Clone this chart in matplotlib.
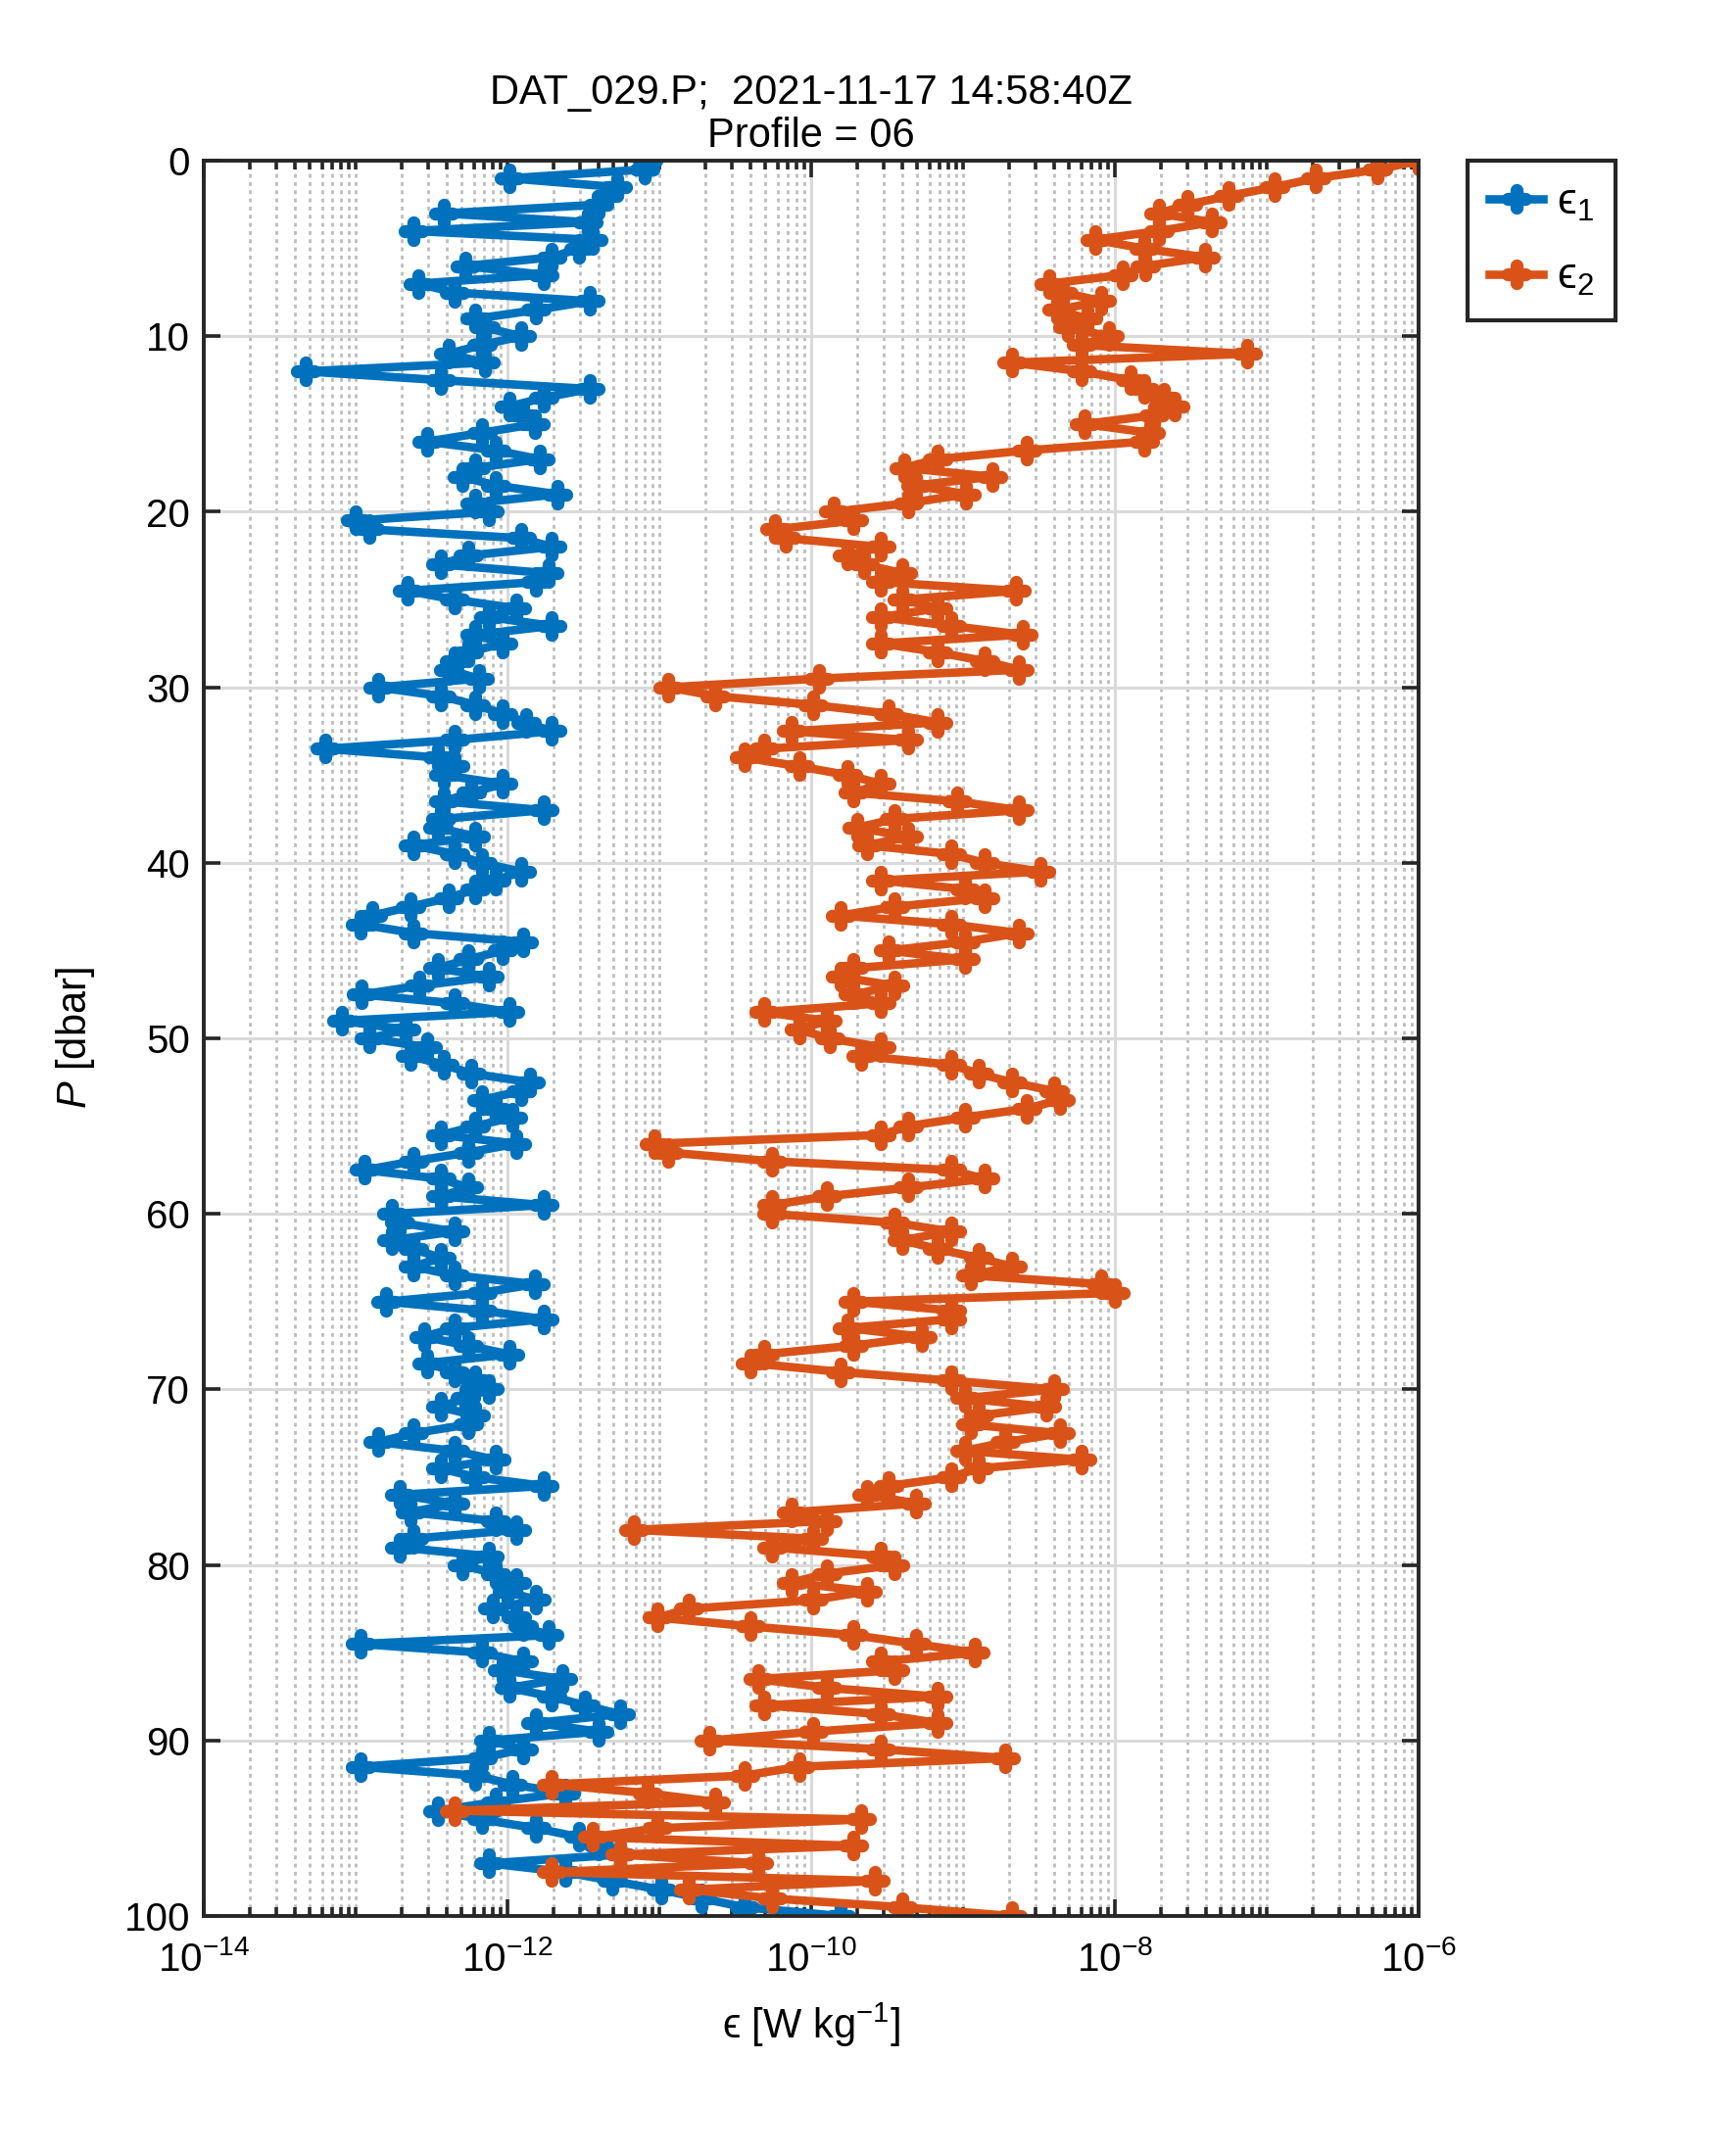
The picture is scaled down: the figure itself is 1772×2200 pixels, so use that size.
import numpy as np
import matplotlib
matplotlib.use("Agg")
import matplotlib.pyplot as plt
from matplotlib.markers import MarkerStyle
from matplotlib.ticker import FixedLocator, LogLocator, NullFormatter

plt.rcParams['font.family'] = ['Liberation Sans', 'DejaVu Sans']
plt.rcParams['mathtext.fontset'] = 'custom'
plt.rcParams['mathtext.rm'] = 'Liberation Sans'
plt.rcParams['mathtext.it'] = 'Liberation Sans:italic'

# pressure levels [dbar]
pressure = np.arange(0, 100.5, 0.5)

# log10 of epsilon, one value per pressure level
log_eps1 = [
    -11.08, -11.10, -11.99, -11.28, -11.35, -11.40, -12.42, -11.47, -12.62, -11.44,
    -11.53, -11.71, -12.28, -11.76, -12.59, -12.35, -11.46, -11.81, -12.21, -12.15,
    -11.91, -12.17, -12.39, -12.15, -13.33, -12.44, -11.46, -11.76, -11.99, -11.90,
    -11.82, -12.17, -12.53, -12.08, -11.79, -12.21, -12.30, -12.08, -11.67, -12.21,
    -12.12, -13.00, -12.91, -11.91, -11.71, -12.26, -12.44, -11.73, -11.81, -12.66,
    -12.35, -11.94, -12.12, -11.71, -12.21, -12.03, -12.26, -12.35, -12.39, -12.19,
    -12.85, -12.44, -12.21, -12.03, -11.88, -11.71, -12.35, -13.20, -12.46, -12.35,
    -12.42, -12.03, -12.24, -12.42, -11.76, -12.44, -12.46, -12.21, -12.62, -12.35,
    -12.17, -11.91, -12.08, -12.21, -12.39, -12.64, -12.89, -12.97, -12.62, -11.90,
    -12.03, -12.26, -12.46, -12.12, -12.58, -12.96, -12.35, -11.99, -13.09, -12.67,
    -12.91, -12.53, -12.64, -12.42, -12.24, -11.85, -11.91, -12.17, -12.08, -11.97,
    -12.21, -12.44, -11.94, -12.26, -12.62, -12.94, -12.44, -12.26, -12.44, -11.76,
    -12.76, -12.71, -12.35, -12.76, -12.62, -12.44, -12.62, -12.35, -11.82, -12.17,
    -12.80, -12.17, -11.76, -12.35, -12.55, -12.26, -11.99, -12.53, -12.35, -12.21,
    -12.12, -12.28, -12.44, -12.21, -12.26, -12.62, -12.85, -12.35, -12.08, -12.44,
    -12.21, -11.76, -12.71, -12.35, -12.64, -12.08, -11.94, -12.62, -12.71, -12.12,
    -12.30, -12.08, -11.94, -12.00, -11.81, -12.10, -11.94, -11.90, -11.73, -12.97,
    -12.17, -11.90, -12.03, -11.64, -11.99, -11.71, -11.49, -11.26, -11.81, -11.40,
    -12.12, -11.90, -12.17, -12.97, -12.21, -11.97, -11.62, -12.08, -12.46, -12.17,
    -11.81, -11.53, -11.40, -11.26, -12.12, -11.62, -11.31, -10.99, -10.72, -10.44,
    -9.81,
]

log_eps2 = [
    -6.00, -6.27, -6.68, -6.95, -7.25, -7.52, -7.71, -7.36, -7.71, -8.13,
    -7.81, -7.41, -7.80, -7.95, -8.43, -8.34, -8.09, -8.38, -8.18, -8.31,
    -8.04, -8.22, -7.13, -8.68, -8.22, -7.90, -7.81, -7.68, -7.61, -7.74,
    -8.20, -7.77, -7.81, -8.58, -9.17, -9.39, -8.81, -9.31, -8.98, -9.36,
    -9.85, -9.72, -10.24, -10.17, -9.54, -9.76, -9.65, -9.40, -9.54, -8.65,
    -9.40, -9.17, -9.54, -9.08, -8.61, -9.54, -9.17, -8.86, -8.63, -9.95,
    -10.94, -10.63, -9.99, -9.49, -9.17, -10.13, -9.36, -10.31, -10.44, -10.08,
    -9.76, -9.54, -9.72, -9.04, -8.63, -9.45, -9.70, -9.36, -9.63, -9.08,
    -8.86, -8.49, -9.54, -8.99, -8.86, -9.45, -9.81, -9.08, -8.63, -8.99,
    -9.49, -8.99, -9.72, -9.81, -9.45, -9.72, -9.54, -10.31, -9.90, -10.08,
    -9.88, -9.54, -9.67, -9.08, -8.90, -8.68, -8.40, -8.36, -8.58, -8.99,
    -9.36, -9.54, -11.03, -10.94, -10.26, -9.08, -8.86, -9.36, -9.90, -10.26,
    -10.26, -9.45, -9.08, -9.40, -9.17, -8.90, -8.68, -8.95, -8.09, -8.00,
    -9.72, -9.08, -9.08, -9.76, -9.27, -9.72, -10.31, -10.40, -9.81, -9.08,
    -8.40, -8.99, -8.45, -8.90, -8.95, -8.36, -8.72, -8.99, -8.22, -8.90,
    -9.08, -9.49, -9.63, -9.31, -10.13, -9.90, -11.17, -9.99, -10.26, -9.54,
    -9.45, -9.90, -10.13, -9.63, -9.99, -10.81, -11.01, -10.40, -9.72, -9.31,
    -8.92, -9.54, -9.45, -10.35, -9.90, -9.17, -10.31, -9.54, -9.17, -9.99,
    -10.67, -9.54, -8.72, -10.08, -10.44, -11.71, -11.08, -10.63, -12.35, -9.67,
    -11.01, -11.44, -9.72, -11.26, -10.35, -11.71, -9.58, -10.81, -10.26, -9.40,
    -8.68,
]

eps1 = 10.0 ** np.array(log_eps1)
eps2 = 10.0 ** np.array(log_eps2)

blue = '#0072BD'
orange = '#D95319'
dark = '#262626'

fig = plt.figure(figsize=(8.86, 11.0), dpi=200)
ax = fig.add_axes([0.1174, 0.1109, 0.6998, 0.8145])

# fat rounded plus markers like matlab's
plus = MarkerStyle('+', capstyle='round')
style = dict(linewidth=3.1, marker=plus, markersize=6.5, markeredgewidth=4.8)
ax.plot(eps1, pressure, color=blue, label='ϵ$_1$', **style)
ax.plot(eps2, pressure, color=orange, label='ϵ$_2$', **style)

ax.set_xscale('log')
ax.set_xlim(1e-14, 1e-6)
ax.set_ylim(100, 0)

ax.xaxis.set_major_locator(FixedLocator([1e-14, 1e-12, 1e-10, 1e-8, 1e-6]))
ax.xaxis.set_minor_locator(LogLocator(base=10, subs=np.arange(1, 10), numticks=50))
ax.xaxis.set_minor_formatter(NullFormatter())
ax.set_yticks(np.arange(0, 101, 10))

ax.grid(True, which='major', color='#dadada', linewidth=1.1, linestyle='-')
ax.grid(True, which='minor', axis='x', color='#bdbdbd', linewidth=1.0,
        linestyle=(0, (1.4, 1.6)))
ax.set_axisbelow(True)

ax.tick_params(which='both', direction='in', top=True, right=True, colors=dark,
               labelcolor='black', labelsize=14.5, width=1.3)
ax.tick_params(which='major', length=6)
ax.tick_params(which='minor', length=3.4)
ax.tick_params(axis='x', which='major', pad=9)
ax.tick_params(axis='y', which='major', pad=5)
for s in ax.spines.values():
    s.set_color(dark)
    s.set_linewidth(1.4)

ax.set_xlabel('ϵ [W kg$^{-1}$]', fontsize=15, labelpad=8)
ax.set_ylabel('$P$ [dbar]', fontsize=15, labelpad=10)
ax.set_title('DAT_029.P;  2021-11-17 14:58:40Z\nProfile = 06', fontsize=15,
             linespacing=1.15, pad=5)

leg = ax.legend(loc='upper left', bbox_to_anchor=(1.04, 1.0), borderaxespad=0,
                fontsize=16, fancybox=False, framealpha=1, edgecolor=dark,
                handlelength=1.25, handletextpad=0.3, borderpad=0.5,
                labelspacing=0.8, numpoints=1)
leg.get_frame().set_linewidth(1.5)

fig.savefig('out.png', dpi=200)
